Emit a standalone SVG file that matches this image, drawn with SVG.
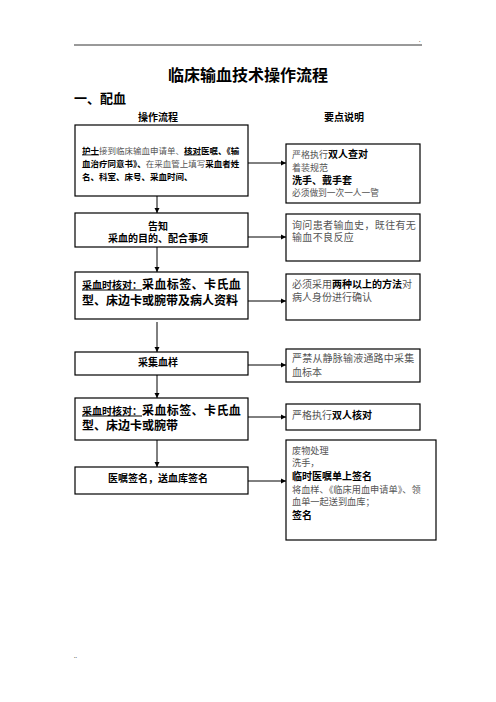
<svg xmlns="http://www.w3.org/2000/svg" width="496" height="702" viewBox="0 0 496 702">
<style>
text{font-family:"Noto Sans CJK SC","Noto Sans",sans-serif;fill:#000}
.b{font-weight:bold}
.n{font-weight:normal;fill:#555}
.u{text-decoration:underline}
.box{fill:#fff;stroke:#000;stroke-width:1.2}
.c{stroke:#000;stroke-width:1;fill:none}
.m{text-anchor:middle}
</style>
<defs>
<marker id="ah" markerWidth="6" markerHeight="6" refX="5" refY="3" orient="auto" markerUnits="userSpaceOnUse">
<path d="M0,0.5 L5,3 L0,5.5 Z" fill="#000"/>
</marker>
</defs>
<rect width="496" height="702" fill="#fff"/>
<g id="header">
<line x1="74" y1="45" x2="422" y2="45" stroke="#000" stroke-width="0.8"/>
<text x="419" y="42" font-size="5" fill="#888">.</text>
<text x="248" y="81" font-size="16" class="b m">临床输血技术操作流程</text>
<text x="74" y="103" font-size="13" class="b">一、配血</text>
<text x="158" y="121" font-size="10" class="b m">操作流程</text>
<text x="344" y="121" font-size="10" class="b m">要点说明</text>
<text x="74" y="658" font-size="5" fill="#888">..</text>
</g>
<g id="connectors">
<line class="c" x1="157" y1="196" x2="157" y2="213" marker-end="url(#ah)"/>
<line class="c" x1="157" y1="247" x2="157" y2="272" marker-end="url(#ah)"/>
<line class="c" x1="157" y1="322" x2="157" y2="352" marker-end="url(#ah)"/>
<line class="c" x1="157" y1="375" x2="157" y2="398" marker-end="url(#ah)"/>
<line class="c" x1="157" y1="440" x2="157" y2="467" marker-end="url(#ah)"/>
<line class="c" x1="248" y1="163" x2="286" y2="163" marker-end="url(#ah)"/>
<line class="c" x1="248" y1="237" x2="286" y2="237" marker-end="url(#ah)"/>
<line class="c" x1="248" y1="301" x2="286" y2="301" marker-end="url(#ah)"/>
<line class="c" x1="248" y1="365" x2="286" y2="365" marker-end="url(#ah)"/>
<line class="c" x1="248" y1="417" x2="286" y2="417" marker-end="url(#ah)"/>
<line class="c" x1="248" y1="481" x2="286" y2="481" marker-end="url(#ah)"/>
</g>
<g id="step1">
<rect class="box" x="75" y="125" width="173" height="71"/>
<text x="82" y="153.5" font-size="8.5"><tspan class="b u">护士</tspan><tspan class="n">接到临床输血申请单、</tspan><tspan class="b u">核对</tspan><tspan class="b">医嘱、《输</tspan></text>
<text x="82" y="167" font-size="8.5"><tspan class="b">血治疗同意书》、</tspan><tspan class="n">在采血管上填写</tspan><tspan class="b">采血者姓</tspan></text>
<text x="82" y="180" font-size="8.5" class="b">名、科室、床号、采血时间、</text>
</g>
<g id="step2">
<rect class="box" x="75" y="213" width="173" height="34"/>
<text x="158" y="229.5" font-size="10" class="b m">告知</text>
<text x="158" y="241.5" font-size="10" class="b m">采血的目的、配合事项</text>
</g>
<g id="step3">
<rect class="box" x="75" y="272" width="173" height="47"/>
<text x="82" y="288.5"><tspan font-size="10" class="b u">采血时核对：</tspan><tspan font-size="12" class="b" letter-spacing="0.4">采血标签、卡氏血</tspan></text>
<text x="82" y="304.5" font-size="12" class="b">型、床边卡或腕带及病人资料</text>
</g>
<g id="step4">
<rect class="box" x="75" y="352" width="173" height="23"/>
<text x="158" y="366" font-size="10" class="b m">采集血样</text>
</g>
<g id="step5">
<rect class="box" x="75" y="398" width="173" height="42"/>
<text x="82" y="414.5"><tspan font-size="10" class="b u">采血时核对：</tspan><tspan font-size="12" class="b" letter-spacing="0.4">采血标签、卡氏血</tspan></text>
<text x="82" y="429.5" font-size="12" class="b">型、床边卡或腕带</text>
</g>
<g id="step6">
<rect class="box" x="75" y="467" width="173" height="27"/>
<text x="158" y="482" font-size="10" class="b m">医嘱签名，送血库签名</text>
</g>
<g id="note1">
<rect class="box" x="286" y="144" width="134" height="59"/>
<text x="292" y="157.5" font-size="9"><tspan class="n">严格执行</tspan><tspan class="b" font-size="10">双人查对</tspan></text>
<text x="292" y="170.5" font-size="9" class="n">着装规范</text>
<text x="292" y="183.5" font-size="10" class="b">洗手、戴手套</text>
<text x="292" y="195.5" font-size="8.7" class="n">必须做到一次一人一管</text>
</g>
<g id="note2">
<rect class="box" x="286" y="214" width="134" height="47"/>
<text x="292" y="228.5" font-size="10" class="n" letter-spacing="0.35">询问患者输血史，既往有无</text>
<text x="292" y="240.5" font-size="10" class="n" letter-spacing="0.35">输血不良反应</text>
</g>
<g id="note3">
<rect class="box" x="286" y="274" width="134" height="46"/>
<text x="292" y="288" font-size="10"><tspan class="n">必须采用</tspan><tspan class="b">两种以上的方法</tspan><tspan class="n">对</tspan></text>
<text x="292" y="301" font-size="10" class="n">病人身份进行确认</text>
</g>
<g id="note4">
<rect class="box" x="286" y="349" width="134" height="33"/>
<text x="292" y="361.5" font-size="10" class="n" letter-spacing="0.2">严禁从静脉输液通路中采集</text>
<text x="292" y="375.5" font-size="10" class="n">血标本</text>
</g>
<g id="note5">
<rect class="box" x="286" y="404" width="134" height="26"/>
<text x="292" y="418.5" font-size="10"><tspan class="n">严格执行</tspan><tspan class="b">双人核对</tspan></text>
</g>
<g id="note6">
<rect class="box" x="286" y="440" width="150" height="100"/>
<text x="292" y="453.5" font-size="9.2" class="n">废物处理</text>
<text x="292" y="465.5" font-size="9.2" class="n">洗手，</text>
<text x="292" y="479.5" font-size="10" class="b">临时医嘱单上签名</text>
<text x="292" y="492.5" font-size="9.2" class="n">将血样、《临床用血申请单》、领</text>
<text x="292" y="504.5" font-size="9.2" class="n">血单一起送到血库；</text>
<text x="292" y="518.5" font-size="10" class="b">签名</text>
</g>
</svg>
